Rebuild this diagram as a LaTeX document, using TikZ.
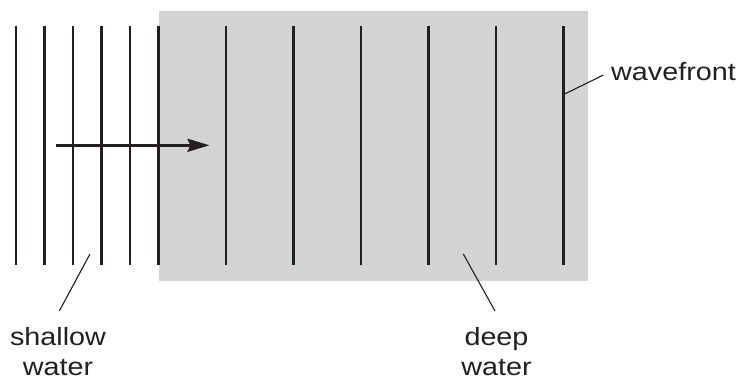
\documentclass[tikz,border=0pt]{standalone}
\usepackage{fontspec}
\setmainfont{Liberation Sans}[FakeStretch=1.15]
\usetikzlibrary{arrows.meta}
\definecolor{ink}{RGB}{35,31,32}
\definecolor{deepgray}{RGB}{209,211,212}
\begin{document}
\begin{tikzpicture}[x=1pt,y=-1pt,
  wave/.style={draw=ink,line width=2.8pt},
  leader/.style={draw=ink,line width=1.1pt},
  lbl/.style={inner sep=0pt,text=ink,font=\fontsize{25}{30}\selectfont,align=center},
  dirarrow/.style={draw=ink,line width=2.8pt,-{Stealth[length=22pt,width=13pt,inset=3pt]}}]
\useasboundingbox (0,0) rectangle (739,380);
% deep water region
\fill[deepgray] (159,11) rectangle (587.5,280.5);
% shallow wavefronts
\foreach \x/\n in {16/s1,44.5/s2,73/s3,101.5/s4,130/s5,158.5/s6}{
  \coordinate (\n t) at (\x,25.5);
  \coordinate (\n b) at (\x,265);
  \draw[wave] (\n t) -- (\n b);
}
% deep wavefronts
\foreach \x/\n in {226/d1,293.5/d2,361/d3,428.5/d4,496/d5,563.5/d6}{
  \coordinate (\n t) at (\x,25.5);
  \coordinate (\n b) at (\x,265);
  \draw[wave] (\n t) -- (\n b);
}
% direction arrow
\coordinate (arrs) at (56,145.3);
\coordinate (arre) at (209.5,145.3);
\draw[dirarrow] (arrs) -- (arre);
% labels
\node[lbl,anchor=base west] (wf) at (611,80) {wavefront};
\coordinate (wfa) at (564,94.3);
\coordinate (wfb) at (603.5,75);
\draw[leader] (wfa) -- (wfb);

\node[lbl,anchor=base] (sw) at (58,375) {shallow\\water};
\coordinate (swa) at (90,254);
\coordinate (swb) at (59.3,311);
\draw[leader] (swa) -- (swb);

\node[lbl,anchor=base] (dw) at (496.5,375) {deep\\water};
\coordinate (dwa) at (463.3,254);
\coordinate (dwb) at (495,311);
\draw[leader] (dwa) -- (dwb);
\end{tikzpicture}
\end{document}
